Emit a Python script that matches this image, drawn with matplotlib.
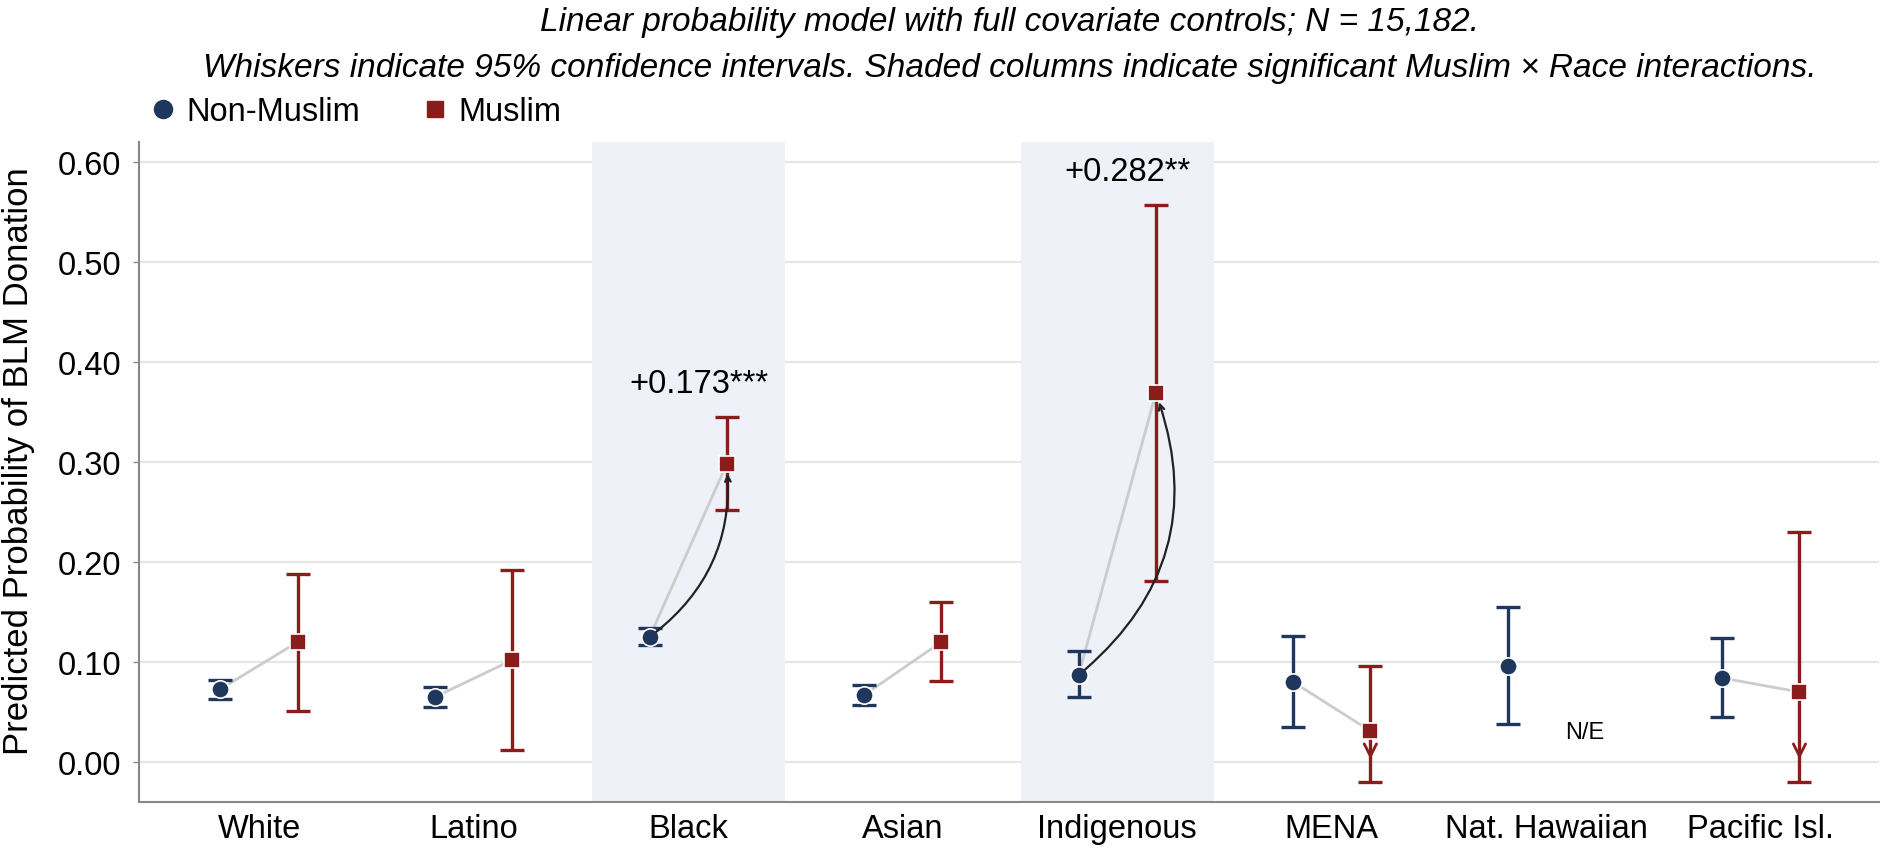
import numpy as np
import matplotlib
matplotlib.use("Agg")
import matplotlib.pyplot as plt
from matplotlib.lines import Line2D

plt.rcParams["font.family"] = ["Liberation Sans", "DejaVu Sans"]

# Data
categories = ["White", "Latino", "Black", "Asian", "Indigenous", "MENA", "Nat. Hawaiian", "Pacific Isl."]
nonmuslim_est = [0.073, 0.065, 0.125, 0.067, 0.087, 0.080, 0.096, 0.084]
nonmuslim_lo = [0.063, 0.055, 0.117, 0.057, 0.065, 0.035, 0.038, 0.045]
nonmuslim_hi = [0.082, 0.075, 0.134, 0.077, 0.111, 0.126, 0.155, 0.124]
muslim_est = [0.120, 0.102, 0.298, 0.120, 0.369, 0.031, np.nan, 0.070]
muslim_lo = [0.051, 0.012, 0.252, 0.081, 0.181, -0.020, np.nan, -0.020]
muslim_hi = [0.188, 0.192, 0.345, 0.160, 0.557, 0.096, np.nan, 0.230]
clipped_low = [False, False, False, False, False, True, False, True]
shaded = ["Black", "Indigenous"]
interaction_labels = {"Black": "+0.173***", "Indigenous": "+0.282**"}
arc_rad = {"Black": 0.28, "Indigenous": 0.35}

navy = "#1f375c"
red = "#8b1c1c"
off = 0.18

x = np.arange(len(categories))
xn = x - off
xm = x + off
nm = np.array(nonmuslim_est)
mm = np.array(muslim_est)

fig = plt.figure(figsize=(18.83, 8.54), dpi=100)
ax = fig.add_axes([0.0738, 0.0597, 0.924, 0.7729])

# shaded columns for significant interactions
for c in shaded:
    i = categories.index(c)
    ax.axvspan(i - 0.45, i + 0.45, color="#eef2f8", zorder=1, lw=0)

# light connector lines
for i in range(len(categories)):
    if not np.isnan(mm[i]):
        ax.plot([xn[i], xm[i]], [nm[i], mm[i]], color="#cccccc", lw=2, zorder=2)

# error bars
ax.errorbar(xn, nm, yerr=[nm - np.array(nonmuslim_lo), np.array(nonmuslim_hi) - nm],
            fmt="none", ecolor=navy, elinewidth=2.4, capsize=8.5, capthick=2.4, zorder=3)
ax.errorbar(xm, mm, yerr=[mm - np.array(muslim_lo), np.array(muslim_hi) - mm],
            fmt="none", ecolor=red, elinewidth=2.4, capsize=8.5, capthick=2.4, zorder=3)

# arrows marking truncated lower whiskers
for i in range(len(categories)):
    if clipped_low[i]:
        ax.annotate("", xy=(xm[i], 0.0), xytext=(xm[i], 0.012),
                    arrowprops=dict(arrowstyle="->", color=red, lw=2, mutation_scale=22),
                    zorder=4)

ax.plot(xn, nm, "o", color=navy, ms=12.5, mec="white", mew=1.2, zorder=5)
ax.plot(xm, mm, "s", color=red, ms=11.5, mec="white", mew=1.2, zorder=5)

# curved arrows + interaction estimates
for c, lab in interaction_labels.items():
    i = categories.index(c)
    ax.annotate("", xy=(xm[i], mm[i]), xytext=(xn[i], nm[i]),
                arrowprops=dict(arrowstyle="->", color="#222222", lw=1.6,
                                connectionstyle=f"arc3,rad={arc_rad[c]}", shrinkA=6, shrinkB=7),
                zorder=6)
    ax.text(i + 0.05, muslim_hi[i] + 0.033, lab, ha="center", va="center", fontsize=23.5, zorder=6)

# not estimable
nh = categories.index("Nat. Hawaiian")
ax.text(xm[nh], 0.030, "N/E", ha="center", va="center", fontsize=17)

ax.set_xlim(-0.56, 7.55)
ax.set_ylim(-0.04, 0.62)
ax.set_xticks(x)
ax.set_xticklabels(categories, fontsize=23.5)
ax.set_yticks(np.arange(0, 0.61, 0.1))
ax.set_yticklabels([f"{v:.2f}" for v in np.arange(0, 0.61, 0.1)], fontsize=23.5)
ax.tick_params(axis="x", length=0, pad=8)
ax.tick_params(axis="y", length=4.3, width=1, color="#888888", pad=8.5)
ax.set_ylabel("Predicted Probability of BLM Donation", fontsize=25)
ax.yaxis.set_label_coords(-0.06, 0.518)

ax.grid(axis="y", color="#e6e6e6", lw=1.5)
ax.set_axisbelow(True)
for s in ["top", "right"]:
    ax.spines[s].set_visible(False)
for s in ["left", "bottom"]:
    ax.spines[s].set_color("#888888")
    ax.spines[s].set_linewidth(1.5)

handles = [Line2D([], [], marker="o", ls="", color=navy, ms=13, label="Non-Muslim"),
           Line2D([], [], marker="s", ls="", color=red, ms=12, label="Muslim")]
fig.legend(handles=handles, loc="center left", bbox_to_anchor=(0.080, 0.868), ncol=2,
           frameon=False, fontsize=23.5, handlelength=0.75, handletextpad=0.35,
           columnspacing=1.9, borderpad=0, borderaxespad=0)

fig.text(0.536, 0.974, "Linear probability model with full covariate controls; N = 15,182.",
         ha="center", va="center", fontsize=24, style="italic")
fig.text(0.536, 0.920, "Whiskers indicate 95% confidence intervals. Shaded columns indicate "
         "significant Muslim \u00d7 Race interactions.",
         ha="center", va="center", fontsize=24, style="italic")

fig.savefig("out.png", dpi=100)
